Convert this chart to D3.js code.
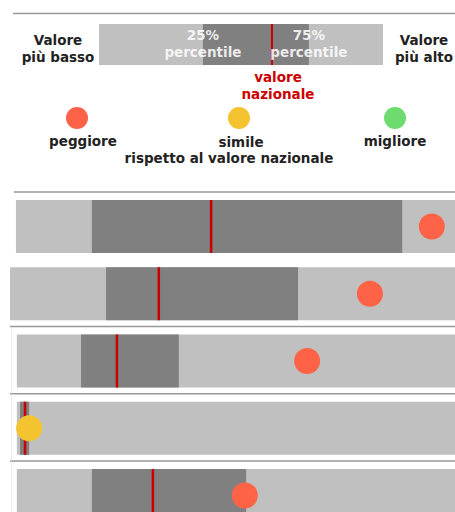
<!DOCTYPE html>
<html lang="it">
<head>
<meta charset="UTF-8">
<title>Valori rispetto al valore nazionale</title>
<style>
  body, html { margin: 0; padding: 0; background: #fff; }
  svg { display: block; }
  text { font-family: 'DejaVu Sans', Verdana, sans-serif; font-weight: bold; }
</style>
</head>
<body>
<svg id="svg" width="455" height="512"></svg>
<script src="https://d3js.org/d3.v7.min.js"></script>
<script>
// ----- DATA (values on a 0-100 scale) ----------
const rowIds = ['r1', 'r2', 'r3', 'r4', 'r5']
const lowValues = [3.5, 2.2, 3.7, 3.7, 3.7]
const q1Values = [20.2, 23.3, 17.8, 4.4, 20.2]
const nationalValues = [46.4, 34.9, 25.7, 5.5, 33.6]
const q3Values = [88.4, 65.5, 39.3, 6.4, 54.1]
const highValues = [102, 102, 102, 102, 102]
const localValues = [94.9, 81.3, 67.5, 6.4, 53.8]
const judgements = ['peggiore', 'peggiore', 'peggiore', 'simile', 'peggiore']

// legend
const legendLow = 0, legendQ1 = 36.6, legendNational = 60.9, legendQ3 = 73.9, legendHigh = 100
const categories = ['peggiore', 'simile', 'migliore']
const catColors = ['#ff6347', '#f4c430', '#6ddb6d']

const rows = rowIds.map((id, i) => ({
  id, low: lowValues[i], q1: q1Values[i], nat: nationalValues[i],
  q3: q3Values[i], high: highValues[i], val: localValues[i], cat: judgements[i]
}))

const light = '#c0c0c0', dark = '#808080', red = '#c80000', ink = '#222'
const fs = 13.5

// ----- SCALES ----------
const x = d3.scaleLinear().domain([0, 100]).range([0, 455])
const y = d3.scaleBand().domain(rowIds).range([200, 522]).paddingInner(0.212)
const color = d3.scaleOrdinal().domain(categories).range(catColors)
const lx = d3.scaleLinear().domain([legendLow, legendHigh]).range([99, 383])

const svg = d3.select('#svg')

// ----- LEGEND ----------
svg.append('line')
  .attr('x1', 13).attr('x2', 455).attr('y1', 13.5).attr('y2', 13.5)
  .attr('stroke', '#999').attr('stroke-width', 1.5)

const lg = svg.append('g')
lg.append('rect').attr('x', lx(legendLow)).attr('y', 24)
  .attr('width', lx(legendHigh) - lx(legendLow)).attr('height', 41).attr('fill', light)
lg.append('rect').attr('x', lx(legendQ1)).attr('y', 24)
  .attr('width', lx(legendQ3) - lx(legendQ1)).attr('height', 41).attr('fill', dark)
lg.append('line').attr('x1', lx(legendNational)).attr('x2', lx(legendNational))
  .attr('y1', 24).attr('y2', 65).attr('stroke', red).attr('stroke-width', 2)

function twoLines(g, cx, y0, lines, fill) {
  const t = g.append('text').attr('text-anchor', 'middle').attr('fill', fill)
    .style('font-size', fs + 'px')
  lines.forEach((s, i) => t.append('tspan').attr('x', cx).attr('y', y0 + i * 17).text(s))
}
twoLines(lg, 58, 45, ['Valore', 'più basso'], ink)
twoLines(lg, 424, 45, ['Valore', 'più alto'], ink)
twoLines(lg, lx(legendQ1), 40, ['25%', 'percentile'], 'rgba(255,255,255,0.85)')
twoLines(lg, lx(legendQ3), 40, ['75%', 'percentile'], 'rgba(255,255,255,0.85)')
twoLines(lg, 278, 82, ['valore', 'nazionale'], '#cc0000')

const legendX = [77, 239, 395]
categories.forEach((c, i) => {
  lg.append('circle').attr('cx', legendX[i]).attr('cy', 118).attr('r', 11).attr('fill', color(c))
})
const legendText = [[83, 146, 'peggiore'], [241, 147, 'simile'],
  [229, 163, 'rispetto al valore nazionale'], [395, 146, 'migliore']]
legendText.forEach(([tx, ty, s]) => {
  lg.append('text').attr('x', tx).attr('y', ty).attr('text-anchor', 'middle')
    .attr('fill', ink).style('font-size', fs + 'px').text(s)
})

// ----- ROWS ----------
const g = svg.append('g')

// separators (none between the first two rows)
g.selectAll('line.sep')
  .data(rows.filter((d, i) => i !== 1))
  .enter().append('line')
  .attr('class', 'sep')
  .attr('x1', (d, i) => i === 0 ? 14 : 10).attr('x2', 455)
  .attr('y1', d => y(d.id) - 8).attr('y2', d => y(d.id) - 8)
  .attr('stroke', '#999').attr('stroke-width', 1.5)

// faint frame on the left of the lower rows
g.selectAll('line.frame')
  .data(rows.slice(2))
  .enter().append('line')
  .attr('class', 'frame')
  .attr('x1', 11.5).attr('x2', 11.5)
  .attr('y1', d => y(d.id) - 7).attr('y2', d => y(d.id) + y.bandwidth() + 6)
  .attr('stroke', '#ececec').attr('stroke-width', 1)

const row = g.selectAll('g.row').data(rows).enter().append('g').attr('class', 'row')

row.append('rect')
  .attr('x', d => x(d.low)).attr('y', d => y(d.id))
  .attr('width', d => x(d.high) - x(d.low)).attr('height', y.bandwidth())
  .attr('fill', light)

row.append('rect')
  .attr('x', d => x(d.q1)).attr('y', d => y(d.id))
  .attr('width', d => x(d.q3) - x(d.q1)).attr('height', y.bandwidth())
  .attr('fill', dark)

row.append('line')
  .attr('x1', d => x(d.nat)).attr('x2', d => x(d.nat))
  .attr('y1', d => y(d.id)).attr('y2', d => y(d.id) + y.bandwidth())
  .attr('stroke', red).attr('stroke-width', 2.5)

row.append('circle')
  .attr('cx', d => x(d.val)).attr('cy', d => y(d.id) + y.bandwidth() / 2)
  .attr('r', 13)
  .attr('fill', d => color(d.cat))
</script>
</body>
</html>
